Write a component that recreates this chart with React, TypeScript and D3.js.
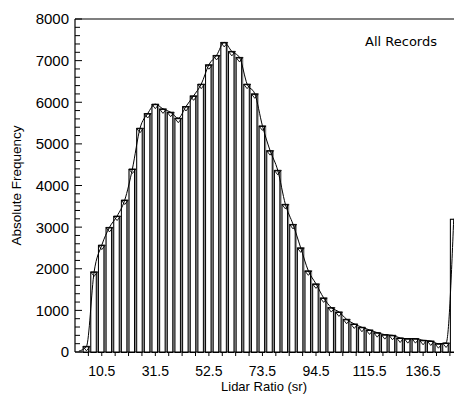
import React from "react";
import * as d3 from "d3";

const binCenters = [
  1.5, 4.5, 7.5, 10.5, 13.5, 16.5, 19.5, 22.5, 25.5, 28.5,
  31.5, 34.5, 37.5, 40.5, 43.5, 46.5, 49.5, 52.5, 55.5, 58.5,
  61.5, 64.5, 67.5, 70.5, 73.5, 76.5, 79.5, 82.5, 85.5, 88.5,
  91.5, 94.5, 97.5, 100.5, 103.5, 106.5, 109.5, 112.5, 115.5, 118.5,
  121.5, 124.5, 127.5, 130.5, 133.5, 136.5, 139.5, 142.5, 145.5, 148.5,
];
const frequencies = [
  20, 136, 1926, 2568, 2993, 3266, 3651, 4397, 5376, 5729,
  5954, 5841, 5761, 5617, 5898, 6154, 6435, 6901, 7125, 7438,
  7222, 7077, 6435, 6203, 5432, 4838, 4365, 3547, 3065, 2503,
  1950, 1637, 1300, 1067, 963, 786, 674, 594, 530, 465,
  417, 401, 337, 321, 321, 281, 265, 200, 217, 3200,
];
const xTickLabels = ["10.5", "31.5", "52.5", "73.5", "94.5", "115.5", "136.5"];
const xMinorTicks = [
  5.25, 10.5, 15.75, 21, 26.25, 31.5, 36.75, 42, 47.25, 52.5, 57.75, 63, 68.25,
  73.5, 78.75, 84, 89.25, 94.5, 99.75, 105, 110.25, 115.5, 120.75, 126, 131.25,
  136.5, 141.75, 147,
];
const yTicks = [0, 1000, 2000, 3000, 4000, 5000, 6000, 7000, 8000];
const yMinorStep = 200;
const binWidth = 3;

const W = 454;
const H = 396;
const left = 75;
const top = 19;
const bottom = 352;
const right = 455;

export default function App() {
  const x = d3.scaleLinear().domain([0, 149]).range([left, right]);
  const y = d3.scaleLinear().domain([0, 8000]).range([bottom, top]);
  const data = binCenters.map((c, i) => ({ c, v: frequencies[i] }));
  const bw = x(binWidth) - x(0);
  const line = d3
    .line<{ c: number; v: number }>()
    .x((d) => x(d.c))
    .y((d) => y(d.v))
    .curve(d3.curveMonotoneX);
  const minor = d3.range(0, 8000 + 1, yMinorStep);
  const font = "'Liberation Sans', Arial, sans-serif";

  return (
    <svg
      width={W}
      height={H}
      style={{ position: "absolute", left: 0, top: 0, background: "#fff" }}
    >
      <defs>
        <clipPath id="plot">
          <rect x={left} y={top - 1} width={right - left} height={bottom - top + 2} />
        </clipPath>
      </defs>
      <g clipPath="url(#plot)">
        {data.slice(1).map((d, i) => {
          const x0 = x(d.c - binWidth / 2);
          const yt = y(d.v);
          return (
            <g key={i}>
              <rect x={x0} y={yt} width={bw} height={bottom - yt} fill="#8a8a8a" />
              <rect
                x={x0 + 0.5}
                y={yt + 0.5}
                width={bw - 2.2}
                height={bottom - yt}
                fill="#fff"
                stroke="#000"
                strokeWidth={1}
              />
            </g>
          );
        })}
        <path d={line(data) || ""} fill="none" stroke="#000" strokeWidth={1} />
        {data.slice(1, -1).map((d, i) => {
          const cx = x(d.c);
          const cy = y(d.v);
          return (
            <path
              key={i}
              d={`M${cx - 3.5},${cy}L${cx + 3.5},${cy}L${cx},${cy + 4.5}Z`}
              fill="none"
              stroke="#000"
              strokeWidth={0.9}
            />
          );
        })}
      </g>
      {/* frame */}
      <line x1={left} x2={W} y1={top} y2={top} stroke="#000" strokeWidth={1.2} />
      <line x1={left} x2={left} y1={top} y2={bottom} stroke="#000" strokeWidth={1.2} />
      <line x1={left} x2={W} y1={bottom} y2={bottom} stroke="#000" strokeWidth={1.2} />
      {/* y ticks */}
      {minor.map((v) => (
        <line
          key={v}
          x1={left}
          x2={left + (v % 1000 === 0 ? 7 : 5)}
          y1={y(v)}
          y2={y(v)}
          stroke="#000"
          strokeWidth={1}
        />
      ))}
      {yTicks.map((v) => (
        <text
          key={v}
          x={left - 6}
          y={y(v)}
          dy="0.36em"
          textAnchor="end"
          fontFamily={font}
          fontSize={15}
          fill="#000"
        >
          {v}
        </text>
      ))}
      {/* x ticks */}
      {xMinorTicks.map((v) => (
        <line key={v} x1={x(v)} x2={x(v)} y1={bottom} y2={bottom + 4} stroke="#000" strokeWidth={1} />
      ))}
      {xTickLabels.map((t) => (
        <text
          key={t}
          x={x(+t)}
          y={bottom + 19}
          dy="0.36em"
          textAnchor="middle"
          fontFamily={font}
          fontSize={14}
          fill="#000"
        >
          {t}
        </text>
      ))}
      <text
        x={(left + right) / 2 - 1}
        y={391}
        textAnchor="middle"
        fontFamily={font}
        fontSize={13}
        fill="#000"
      >
        Lidar Ratio (sr)
      </text>
      <text
        transform={`translate(16,${(top + bottom) / 2}) rotate(-90)`}
        textAnchor="middle"
        dy="0.36em"
        fontFamily={font}
        fontSize={13.5}
        fill="#000"
      >
        Absolute Frequency
      </text>
      <text
        x={437}
        y={41}
        dy="0.36em"
        textAnchor="end"
        fontFamily="Tahoma, 'DejaVu Sans', sans-serif"
        fontSize={13}
        fill="#000"
      >
        All Records
      </text>
    </svg>
  );
}
